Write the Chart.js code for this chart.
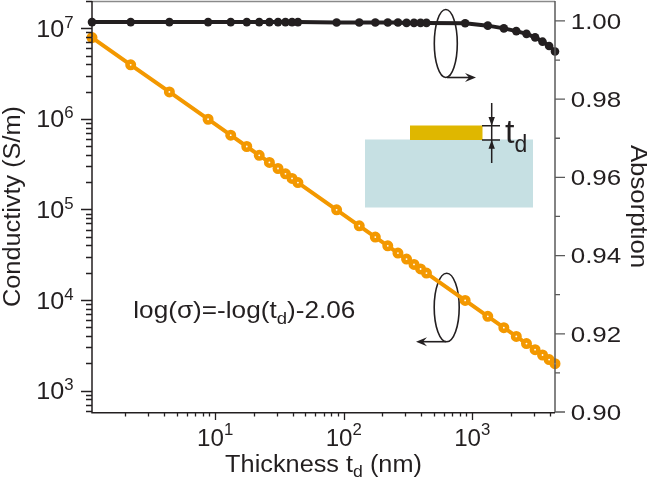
<!DOCTYPE html>
<html>
<head>
<meta charset="utf-8">
<script src="https://cdn.jsdelivr.net/npm/chart.js@4.4.1/dist/chart.umd.min.js"></script>
<style>
html,body{margin:0;padding:0;background:#fff;}
canvas{display:block;}
</style>
</head>
<body>
<canvas id="c" width="647" height="481"></canvas>
<script>
// ---- data ----
const thickness = [1.1, 2.2, 4.4, 8.8, 13.2, 17.6, 22, 26.4, 30.8, 35.2, 39.6, 44,
  88, 132, 176, 220, 264, 308, 352, 396, 440,
  880, 1320, 1760, 2200, 2640, 3080, 3520, 3960, 4400];
const conductivity = [7.9e6, 3.95e6, 1.98e6, 9.9e5, 6.6e5, 4.95e5, 3.96e5, 3.3e5, 2.83e5, 2.47e5, 2.2e5, 1.98e5,
  9.9e4, 6.6e4, 4.95e4, 3.96e4, 3.3e4, 2.83e4, 2.47e4, 2.2e4, 1.98e4,
  9.9e3, 6.6e3, 4.95e3, 3.96e3, 3.3e3, 2.83e3, 2.47e3, 2.2e3, 1.98e3];
const absorption = [0.9997, 0.9997, 0.9997, 0.9997, 0.9997, 0.9997, 0.9997, 0.9997, 0.9997, 0.9997, 0.9997, 0.9997,
  0.9996, 0.9996, 0.9996, 0.9996, 0.9996, 0.9995, 0.9995, 0.9995, 0.9995,
  0.9994, 0.9988, 0.9981, 0.9974, 0.9967, 0.9958, 0.9947, 0.9936, 0.9922];
const xTickExps = [1, 2, 3];
const yTickExps = [3, 4, 5, 6, 7];
const absTicks = [0.90, 0.92, 0.94, 0.96, 0.98, 1.00];
const absMinorTicks = [0.91, 0.93, 0.95, 0.97, 0.99];
const xTitle = ['Thickness t', 'd', ' (nm)'];
const yTitle = 'Conductivty (S/m)';
const y2Title = 'Absorption';
const formula = ['log(σ)=-log(t', 'd', ')-2.06'];

const INK = '#231f20';
const FONT = '"Liberation Sans", Arial, Helvetica, sans-serif';

function rich(ctx, parts, x, y, align, sx, rot) {
  let widths = parts.map(p => { ctx.font = p.size + 'px ' + FONT; return ctx.measureText(p.t).width; });
  const total = widths.reduce((a, b) => a + b, 0);
  ctx.save();
  ctx.translate(x, y);
  if (rot) ctx.rotate(rot);
  ctx.scale(sx || 1, 1);
  let cx = align === 'left' ? 0 : align === 'right' ? -total : -total / 2;
  ctx.fillStyle = INK;
  ctx.textBaseline = 'alphabetic';
  ctx.textAlign = 'left';
  parts.forEach((p, i) => {
    ctx.font = p.size + 'px ' + FONT;
    ctx.fillText(p.t, cx, p.dy || 0);
    cx += widths[i];
  });
  ctx.restore();
}

function arrowHead(ctx, x, y, dir) {
  ctx.save();
  ctx.translate(x, y);
  const ang = {r: 0, l: Math.PI, d: Math.PI / 2, u: -Math.PI / 2}[dir];
  ctx.rotate(ang);
  ctx.beginPath();
  ctx.moveTo(0, 0);
  ctx.lineTo(-11, -4.5);
  ctx.lineTo(-7, 0);
  ctx.lineTo(-11, 4.5);
  ctx.closePath();
  ctx.fillStyle = INK;
  ctx.fill();
  ctx.restore();
}

const decor = {
  id: 'decor',
  beforeDatasetsDraw(chart) {
    const ctx = chart.ctx;
    ctx.save();
    // inset: substrate and film
    ctx.fillStyle = '#c6e0e3';
    ctx.fillRect(365, 139.5, 168, 68);
    ctx.fillStyle = '#dfb700';
    ctx.fillRect(410, 125.5, 72.5, 14.5);
    // dimension lines
    ctx.strokeStyle = INK;
    ctx.lineWidth = 1.5;
    ctx.beginPath();
    ctx.moveTo(482, 125.7); ctx.lineTo(500, 125.7);
    ctx.moveTo(482, 140); ctx.lineTo(500, 140);
    ctx.moveTo(491.7, 103); ctx.lineTo(491.7, 163);
    ctx.stroke();
    ctx.beginPath();
    ctx.moveTo(491.7, 125.7); ctx.lineTo(488.5, 117); ctx.lineTo(494.9, 117); ctx.closePath();
    ctx.moveTo(491.7, 140); ctx.lineTo(488.5, 148.7); ctx.lineTo(494.9, 148.7); ctx.closePath();
    ctx.fillStyle = INK; ctx.fill();
    // ellipses with arrows
    ctx.lineWidth = 1.6;
    ctx.beginPath();
    ctx.ellipse(445.8, 43.5, 11.5, 34, 0, 0, Math.PI * 2);
    ctx.stroke();
    ctx.beginPath();
    ctx.moveTo(447, 77.5); ctx.lineTo(470, 77.5); ctx.stroke();
    arrowHead(ctx, 476, 77.5, 'r');
    ctx.beginPath();
    ctx.ellipse(446.7, 307.5, 12.5, 34.2, 0, 0, Math.PI * 2);
    ctx.stroke();
    ctx.beginPath();
    ctx.moveTo(446, 341.7); ctx.lineTo(422, 341.7); ctx.stroke();
    arrowHead(ctx, 416, 341.7, 'l');
    ctx.restore();
  },
  afterDraw(chart) {
    const ctx = chart.ctx;
    const a = chart.chartArea;
    const sx = chart.scales.x, sy = chart.scales.y, s2 = chart.scales.y2;
    ctx.save();
    // frame
    ctx.lineWidth = 1.5;
    ctx.strokeStyle = '#8a8a8a';
    ctx.beginPath(); ctx.moveTo(a.left, a.top + 0.5); ctx.lineTo(a.right, a.top + 0.5); ctx.stroke();
    ctx.strokeStyle = '#5a5a5a';
    ctx.beginPath(); ctx.moveTo(a.right, a.top); ctx.lineTo(a.right, a.bottom); ctx.stroke();
    ctx.strokeStyle = INK;
    ctx.beginPath(); ctx.moveTo(a.left, a.top); ctx.lineTo(a.left, a.bottom + 0.7); ctx.lineTo(a.right, a.bottom + 0.7); ctx.stroke();
    // left log ticks
    ctx.lineWidth = 1.3;
    ctx.beginPath();
    for (let e = 2; e <= 7; e++) {
      for (let m = 1; m <= 9; m++) {
        const v = m * Math.pow(10, e);
        if (v < sy.min || v > sy.max) continue;
        const y = Math.round(sy.getPixelForValue(v)) + 0.5;
        const len = m === 1 ? 11 : 6;
        ctx.moveTo(a.left - len, y); ctx.lineTo(a.left, y);
      }
    }
    // bottom log ticks
    for (let e = 0; e <= 3; e++) {
      for (let m = 1; m <= 9; m++) {
        const v = m * Math.pow(10, e);
        if (v < sx.min || v > sx.max) continue;
        const x = Math.round(sx.getPixelForValue(v)) + 0.5;
        const len = m === 1 ? 8 : 4.5;
        ctx.moveTo(x, a.bottom); ctx.lineTo(x, a.bottom + len);
      }
    }
    ctx.stroke();
    // right ticks
    ctx.strokeStyle = '#5a5a5a';
    ctx.beginPath();
    absTicks.forEach(v => { const y = s2.getPixelForValue(v); ctx.moveTo(a.right, y); ctx.lineTo(a.right + 10, y); });
    absMinorTicks.forEach(v => { const y = s2.getPixelForValue(v); ctx.moveTo(a.right, y); ctx.lineTo(a.right + 5, y); });
    ctx.stroke();
    // labels
    yTickExps.forEach(e => {
      const y = sy.getPixelForValue(Math.pow(10, e));
      rich(ctx, [{t: '10', size: 24}, {t: String(e), size: 16, dy: -9}], a.left - 18.4, y + 8.6, 'right', 1.05);
    });
    xTickExps.forEach(e => {
      const x = sx.getPixelForValue(Math.pow(10, e));
      rich(ctx, [{t: '10', size: 23}, {t: String(e), size: 16, dy: -10.5}], x, a.bottom + 33.5, 'center', 1.05);
    });
    absTicks.forEach(v => {
      const y = s2.getPixelForValue(v);
      rich(ctx, [{t: v.toFixed(2), size: 22}], a.right + 15.7, y + 7.9, 'left', 1.18);
    });
    // axis titles
    rich(ctx, [{t: xTitle[0], size: 23}, {t: xTitle[1], size: 16, dy: 5}, {t: xTitle[2], size: 23}],
      (a.left + a.right) / 2, 471.5, 'center', 1.1);
    rich(ctx, [{t: yTitle, size: 23}], 20, (a.top + a.bottom) / 2, 'center', 1.1, -Math.PI / 2);
    rich(ctx, [{t: y2Title, size: 23}], 630.5, (a.top + a.bottom) / 2, 'center', 1.12, Math.PI / 2);
    // formula
    rich(ctx, [{t: formula[0], size: 24}, {t: formula[1], size: 17, dy: 6}, {t: formula[2], size: 24}],
      133.3, 318.3, 'left', 1.09);
    // inset label
    rich(ctx, [{t: 't', size: 34}, {t: 'd', size: 23, dy: 8.4}], 505, 143.3, 'left', 1.0);
    ctx.restore();
  }
};

new Chart(document.getElementById('c'), {
  type: 'line',
  data: {
    datasets: [
      {
        label: 'Absorption',
        data: thickness.map((t, i) => ({x: t, y: absorption[i]})),
        yAxisID: 'y2',
        borderColor: INK,
        backgroundColor: INK,
        borderWidth: 4,
        pointRadius: 4.3,
        pointBorderWidth: 0,
        pointBackgroundColor: INK,
        tension: 0,
        clip: false
      },
      {
        label: 'Conductivity',
        data: thickness.map((t, i) => ({x: t, y: conductivity[i]})),
        yAxisID: 'y',
        borderColor: '#f39800',
        backgroundColor: '#ffffff',
        borderWidth: 4,
        pointRadius: 3.2,
        pointBorderWidth: 4.6,
        pointBorderColor: '#f39800',
        pointBackgroundColor: '#ffffff',
        tension: 0,
        clip: false
      }
    ]
  },
  options: {
    responsive: false,
    animation: false,
    events: [],
    layout: {autoPadding: false, padding: {top: 1, left: 0, right: 0, bottom: 0}},
    plugins: {legend: {display: false}, tooltip: {enabled: false}, title: {display: false}},
    scales: {
      x: {
        type: 'logarithmic', position: 'bottom', min: 1.1, max: 4400, bounds: 'data',
        grid: {display: false}, border: {display: false}, ticks: {display: false},
        afterFit: s => { s.height = 69; }
      },
      y: {
        type: 'logarithmic', position: 'left', min: 580, max: 2.0e7, bounds: 'data',
        grid: {display: false}, border: {display: false}, ticks: {display: false},
        afterFit: s => { s.width = 92; }
      },
      y2: {
        type: 'linear', position: 'right', min: 0.9, max: 1.0051, bounds: 'data',
        grid: {display: false}, border: {display: false}, ticks: {display: false},
        afterFit: s => { s.width = 92; }
      }
    }
  },
  plugins: [decor]
});
</script>
</body>
</html>
